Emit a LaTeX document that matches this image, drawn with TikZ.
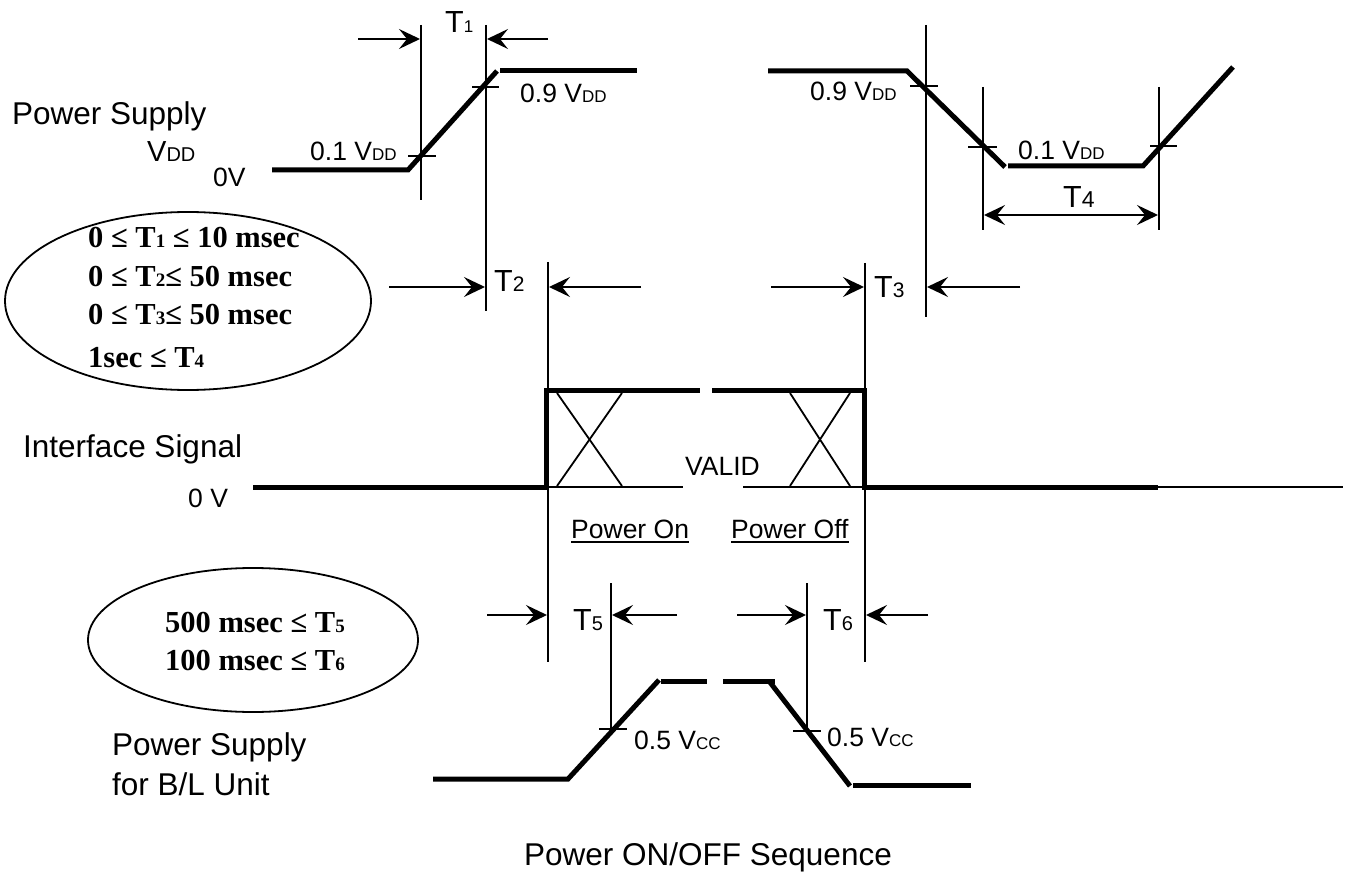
\documentclass[tikz,border=0pt]{standalone}
\usepackage{fontspec}
\setmainfont{Liberation Sans}
\newfontfamily\tnr{Liberation Serif}
\usetikzlibrary{arrows.meta,shapes.geometric}
\newcommand\fsz[1]{\fontsize{#1}{#1}\selectfont}
\newcommand\sbs[2]{{\fsz{#1}#2}}
\begin{document}
\begin{tikzpicture}[x=1pt,y=-1pt,
  wave/.style={line width=5pt},
  fine/.style={line width=1.8pt},
  dimarrow/.style={fine,-{Stealth[length=21pt,width=20pt,inset=8pt]}},
  dimboth/.style={fine,{Stealth[length=21pt,width=20pt,inset=8pt]}-{Stealth[length=21pt,width=20pt,inset=8pt]}},
  lbl/.style={inner sep=0pt,anchor=base west,font=\fsz{26.5}},
  big/.style={inner sep=0pt,anchor=base west,font=\fsz{31.5}},
  tl/.style={inner sep=0pt,anchor=base west,font=\fsz{30.5}},
  ell/.style={inner sep=0pt,anchor=base west,font=\tnr\bfseries\fsz{30.5}},
  oval/.style={draw,ellipse,fine,inner sep=0pt}
]
\fill[white] (0,0) rectangle (1351,874);
\useasboundingbox (0,0) rectangle (1351,874);

% ---------- labels on the left ----------
\node[big] (ps1) at (12,125) {Power Supply};
\node[inner sep=0pt,anchor=base west,font=\fsz{29}] (vdd) at (147,162) {V\sbs{20}{DD}};
\node[lbl] (zv1) at (213,187) {0V};
\node[big] (isig) at (23,457) {Interface Signal};
\node[lbl] (zv2) at (188,507) {0 V};
\node[big] (ps2) at (112,755) {Power Supply};
\node[big] (blu) at (112,795) {for B/L Unit};
\node[big,anchor=base] (cap) at (708,865) {Power ON/OFF Sequence};

% ---------- ellipses ----------
\node[oval,minimum width=366pt,minimum height=178pt] (e1) at (188,301) {};
\node[ell] (e1a) at (88,248) {0 ≤ T\sbs{19}{1} ≤ 10 msec};
\node[ell] (e1b) at (88,287) {0 ≤ T\sbs{19}{2}≤ 50 msec};
\node[ell] (e1c) at (88,325) {0 ≤ T\sbs{19}{3}≤ 50 msec};
\node[ell] (e1d) at (88,367) {1sec ≤ T\sbs{19}{4}};
\node[oval,minimum width=330pt,minimum height=144pt] (e2) at (253,640) {};
\node[ell] (e2a) at (165,632) {500 msec ≤ T\sbs{19}{5}};
\node[ell] (e2b) at (165,670) {100 msec ≤ T\sbs{19}{6}};

% ---------- top power supply waveform ----------
\draw[wave] (272,170) -- (408,170) -- (497,71);
\draw[wave] (500,71) -- (637,71);
\draw[wave] (768,71) -- (907,71) -- (1005,167);
\draw[wave] (1008,166) -- (1143,166) -- (1233,67);

% ticks
\draw[fine] (408,156) -- (436,156);
\draw[fine] (472,87) -- (499,87);
\draw[fine] (910,86) -- (938,86);
\draw[fine] (968,147) -- (997,147);
\draw[fine] (1150,146) -- (1177,146);
\draw[fine] (599,729) -- (627,729);
\draw[fine] (793,731) -- (821,731);

% level labels
\node[lbl] (l01a) at (310,161) {0.1 V\sbs{17}{DD}};
\node[lbl] (l09a) at (520,103) {0.9 V\sbs{17}{DD}};
\node[lbl] (l09b) at (810,101) {0.9 V\sbs{17}{DD}};
\node[lbl] (l01b) at (1018,160) {0.1 V\sbs{17}{DD}};
\node[lbl] (l05a) at (634,749) {0.5 V\sbs{17}{CC}};
\node[lbl] (l05b) at (827,746) {0.5 V\sbs{17}{CC}};

% ---------- vertical reference lines ----------
\draw[fine] (421,25) -- (421,200);
\draw[fine] (486,25) -- (486,311);
\draw[fine] (548,262) -- (548,662);
\draw[fine] (865,263) -- (865,662);
\draw[fine] (926,25) -- (926,317);
\draw[fine] (983,87) -- (983,230);
\draw[fine] (1159,87) -- (1159,230);
\draw[fine] (611,583) -- (611,729);
\draw[fine] (807,583) -- (807,731);

% ---------- dimension arrows ----------
\draw[dimarrow] (358,39) -- (420,39);
\draw[dimarrow] (548,39) -- (487,39);
\node[tl] (t1) at (445,33) {T\sbs{17}{1}};

\draw[dimarrow] (389,287) -- (485,287);
\draw[dimarrow] (641,287) -- (549,287);
\node[tl] (t2) at (494,292) {T\sbs{21}{2}};

\draw[dimarrow] (771,287) -- (864,287);
\draw[dimarrow] (1020,287) -- (927,287);
\node[tl] (t3) at (874,298) {T\sbs{21}{3}};

\draw[dimboth] (984,215) -- (1158,215);
\node[tl] (t4) at (1063,208) {T\sbs{23}{4}};

\draw[dimarrow] (487,615) -- (547,615);
\draw[dimarrow] (677,615) -- (612,615);
\node[tl] (t5) at (573,630) {T\sbs{20}{5}};

\draw[dimarrow] (737,615) -- (806,615);
\draw[dimarrow] (928,615) -- (866,615);
\node[tl] (t6) at (823,630) {T\sbs{20}{6}};

% ---------- interface signal ----------
\draw[wave] (253,487) -- (546,487) -- (546,390) -- (700,390);
\draw[wave] (712,390) -- (864,390) -- (864,487) -- (1158,487);
\draw[fine] (1158,487) -- (1343,487);
\draw[fine] (546,487) -- (683,487);
\draw[fine] (743,487) -- (864,487);
\draw[fine] (557,393) -- (622,486);
\draw[fine] (622,393) -- (557,486);
\draw[fine] (790,393) -- (850,486);
\draw[fine] (850,393) -- (790,486);
\node[lbl] (valid) at (685,475) {VALID};
\node[lbl] (pon) at (571,538) {Power On};
\node[lbl] (poff) at (731,538) {Power Off};
\draw[line width=1.5pt] ([yshift=-4pt]pon.base west) -- ([yshift=-4pt]pon.base east);
\draw[line width=1.5pt] ([yshift=-4pt]poff.base west) -- ([yshift=-4pt]poff.base east);

% ---------- backlight power supply ----------
\draw[wave] (433,779) -- (568,779) -- (659,680);
\draw[wave] (661,681) -- (707,681);
\draw[wave] (723,681) -- (775,681);
\draw[wave] (769,681) -- (850,786);
\draw[wave] (853,785) -- (971,785);
\end{tikzpicture}
\end{document}
